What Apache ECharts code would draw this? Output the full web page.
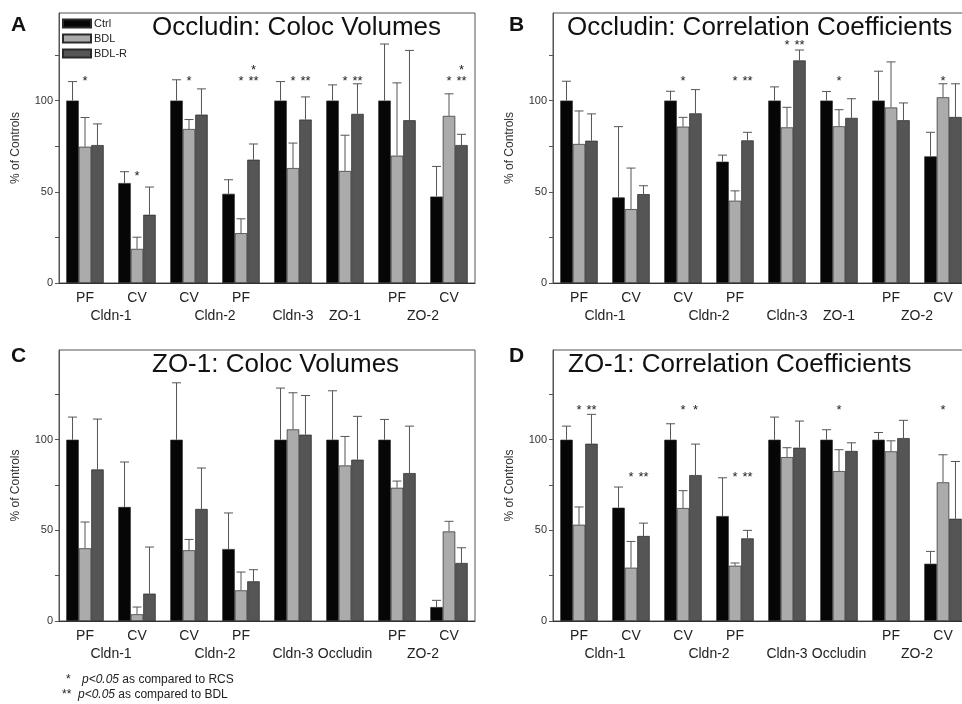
<!DOCTYPE html>
<html>
<head>
<meta charset="utf-8">
<script src="https://cdn.jsdelivr.net/npm/echarts@6/dist/echarts.min.js"></script>
<style>
html,body{margin:0;padding:0;background:#fff;}
#chart{width:962px;height:704px;}
</style>
</head>
<body>
<div id="chart"></div>
<script>
// ---------- data ----------
const seriesNames = ['Ctrl', 'BDL', 'BDL-R'];
const categoriesAB = ['PF', 'CV', 'CV', 'PF', '', '', 'PF', 'CV'];
const categoriesCD = ['PF', 'CV', 'CV', 'PF', '', '', 'PF', 'CV'];
const groupPos = [1, 3, 4.5, 5.5, 7];
const groupNamesAB = ['Cldn-1', 'Cldn-2', 'Cldn-3', 'ZO-1', 'ZO-2'];
const groupNamesCD = ['Cldn-1', 'Cldn-2', 'Cldn-3', 'Occludin', 'ZO-2'];
const yTickLabels = [0, 50, 100];

const titles = ['Occludin: Coloc Volumes', 'Occludin: Correlation Coefficients',
                'ZO-1: Coloc Volumes', 'ZO-1: Correlation Coefficients'];
const panelLetters = ['A', 'B', 'C', 'D'];

// Panel A
const aCtrl = [100, 54.8, 100, 48.9, 100, 100, 100, 47.4];
const aCtrlSem = [10.4, 6.2, 11.4, 7.7, 10.4, 8.6, 31, 16.5];
const aBdl = [74.7, 18.7, 84.4, 27.3, 63, 61.4, 69.8, 91.6];
const aBdlSem = [16, 6.4, 5.2, 7.9, 13.7, 19.6, 39.9, 12.1];
const aBdlr = [75.6, 37.4, 92.3, 67.6, 89.6, 92.7, 89.2, 75.6];
const aBdlrSem = [11.6, 15.2, 14.1, 8.6, 12.4, 16.5, 38.3, 5.9];
// Panel B
const bCtrl = [100, 46.9, 100, 66.5, 100, 100, 100, 69.4];
const bCtrlSem = [10.6, 38.8, 5.1, 3.6, 7.5, 5, 16.1, 13.2];
const bBdl = [76.2, 40.5, 85.7, 45.1, 85.3, 85.9, 96.2, 101.8];
const bBdlSem = [18.1, 22.5, 5.1, 5.4, 11, 9.1, 25, 7.4];
const bBdlr = [78, 48.7, 93, 78.2, 122, 90.5, 89.2, 91];
const bBdlrSem = [14.7, 4.6, 13, 4.4, 5.7, 10.5, 9.5, 18.2];
// Panel C
const cCtrl = [100, 62.9, 100, 39.7, 100, 100, 100, 7.7];
const cCtrlSem = [12.5, 24.8, 31.4, 19.9, 28.5, 27, 11.2, 3.7];
const cBdl = [40.1, 3.7, 39, 16.9, 105.7, 85.8, 73.5, 49.4];
const cBdlSem = [14.5, 4, 6, 10.1, 20.2, 16, 3.7, 5.6];
const cBdlr = [83.6, 15.1, 61.8, 21.9, 102.8, 89, 81.6, 32];
const cBdlrSem = [27.8, 25.7, 22.6, 6.4, 21.6, 23.9, 25.9, 8.4];
// Panel D
const dCtrl = [100, 62.5, 100, 57.9, 100, 100, 100, 31.6];
const dCtrlSem = [7.5, 11.4, 8.8, 21.1, 12.5, 5.5, 4, 6.8];
const dBdl = [53.1, 29.4, 62.3, 30.5, 90.4, 82.7, 93.6, 76.5];
const dBdlSem = [9.8, 14.5, 9.6, 1.5, 5.2, 11.8, 5.8, 15.2];
const dBdlr = [97.8, 46.9, 80.5, 45.6, 95.6, 93.8, 100.9, 56.4];
const dBdlrSem = [16.2, 7.1, 17.1, 4.4, 14.7, 4.5, 9.8, 31.6];

// significance marks: [category, bar (0 Ctrl,1 BDL,2 BDL-R), y, text]
const sigA = [[0,1,112,'*'],[1,1,60,'*'],[2,1,112,'*'],[3,1,112,'*'],[3,2,112,'**'],[3,2,118,'*'],
              [4,1,112,'*'],[4,2,112,'**'],[5,1,112,'*'],[5,2,112,'**'],[7,1,112,'*'],[7,2,112,'**'],[7,2,118,'*']];
const sigB = [[2,1,112,'*'],[3,1,112,'*'],[3,2,112,'**'],[4,1,131.7,'*'],[4,2,131.7,'**'],[5,1,112,'*'],[7,1,112,'*']];
const sigC = [];
const sigD = [[0,1,117.6,'*'],[0,2,117.6,'**'],[1,1,81,'*'],[1,2,81,'**'],[2,1,117.6,'*'],[2,2,117.6,'*'],
              [3,1,81,'*'],[3,2,81,'**'],[5,1,117.6,'*'],[7,1,117.6,'*']];

const footnote1 = ['*', 'p<0.05', ' as compared to RCS'];
const footnote2 = ['**', 'p<0.05', ' as compared to BDL'];

// ---------- build ----------
const FONT = '"Liberation Sans", Arial, Helvetica, sans-serif';
const colors = ['#060606', '#ababab', '#555555'];
const GAP = 0.28;

const panels = [
  {vals: [aCtrl, aBdl, aBdlr], sems: [aCtrlSem, aBdlSem, aBdlrSem], sig: sigA, cats: categoriesAB, groups: groupNamesAB, max: 148},
  {vals: [bCtrl, bBdl, bBdlr], sems: [bCtrlSem, bBdlSem, bBdlrSem], sig: sigB, cats: categoriesAB, groups: groupNamesAB, max: 148},
  {vals: [cCtrl, cBdl, cBdlr], sems: [cCtrlSem, cBdlSem, cBdlrSem], sig: sigC, cats: categoriesCD, groups: groupNamesCD, max: 149.5},
  {vals: [dCtrl, dBdl, dBdlr], sems: [dCtrlSem, dBdlSem, dBdlrSem], sig: sigD, cats: categoriesCD, groups: groupNamesCD, max: 149.5}
];
const gridPos = [
  {left: 59, top: 13, width: 416, height: 270},
  {left: 553, top: 13, width: 416, height: 270},
  {left: 59, top: 350, width: 416, height: 271},
  {left: 553, top: 350, width: 416, height: 271}
];
const titlePos = [[152, 15], [567, 15], [152, 352], [568, 352]];
const letterPos = [[11, 15], [509, 15], [11, 346], [509, 346]];

const grids = [], xAxes = [], yAxes = [], series = [], titleArr = [];

panels.forEach((p, pi) => {
  grids.push(Object.assign({show: true, borderColor: '#555', borderWidth: 1, outerBoundsMode: 'none', containLabel: false}, gridPos[pi]));
  xAxes.push({
    gridIndex: pi, type: 'category', data: p.cats, position: 'bottom',
    axisTick: {show: false},
    axisLine: {lineStyle: {color: '#333', width: 1}},
    axisLabel: {interval: 0, margin: 8, fontSize: 14, color: '#222', fontFamily: FONT},
    splitLine: {show: false}
  });
  xAxes.push({
    gridIndex: pi, type: 'value', min: 0, max: 8, interval: 0.5, position: 'bottom',
    axisLine: {show: false}, axisTick: {show: false}, splitLine: {show: false},
    axisLabel: {
      margin: 26, fontSize: 14, color: '#222', fontFamily: FONT, showMinLabel: true, showMaxLabel: true,
      formatter: v => { const i = groupPos.indexOf(v); return i >= 0 ? p.groups[i] : ''; }
    }
  });
  yAxes.push({
    gridIndex: pi, type: 'value', min: 0, max: p.max, interval: 25,
    axisLine: {show: true, lineStyle: {color: '#555'}},
    axisTick: {show: true, length: 4, lineStyle: {color: '#555'}},
    splitLine: {show: false},
    axisLabel: {
      margin: 6, fontSize: 11, color: '#333', fontFamily: FONT, showMaxLabel: false,
      formatter: v => yTickLabels.indexOf(v) >= 0 ? String(v) : ''
    },
    name: '% of Controls', nameLocation: 'middle', nameGap: 37, nameRotate: 90,
    nameTextStyle: {fontSize: 12, color: '#333', fontFamily: FONT}
  });

  p.vals.forEach((vals, k) => {
    series.push({
      type: 'bar', name: seriesNames[k], xAxisIndex: 2 * pi, yAxisIndex: pi,
      data: vals, barCategoryGap: (GAP * 100) + '%', barGap: '0%',
      itemStyle: {color: colors[k], borderColor: '#2a2a2a', borderWidth: 0.7},
      emphasis: {disabled: true}, z: 2
    });
  });

  const errData = [];
  p.vals.forEach((vals, k) => vals.forEach((v, i) => errData.push([i, v, p.sems[k][i], k])));
  series.push({
    type: 'custom', xAxisIndex: 2 * pi, yAxisIndex: pi, data: errData, z: 3, silent: true,
    encode: {x: 0, y: 1},
    renderItem: (params, api) => {
      const cat = api.value(0), v = api.value(1), s = api.value(2), k = api.value(3);
      const cw = api.size([1, 0])[0];
      const bw = cw * (1 - GAP) / 3;
      const base = api.coord([cat, v]);
      const top = api.coord([cat, v + s]);
      const x = base[0] + (k - 1) * bw;
      const st = {stroke: '#555', lineWidth: 1};
      return {type: 'group', children: [
        {type: 'line', shape: {x1: x, y1: base[1], x2: x, y2: top[1]}, style: st},
        {type: 'line', shape: {x1: x - 4.5, y1: top[1], x2: x + 4.5, y2: top[1]}, style: st}
      ]};
    }
  });

  if (p.sig.length) {
    series.push({
      type: 'custom', xAxisIndex: 2 * pi, yAxisIndex: pi, z: 4, silent: true,
      data: p.sig.map(s => [s[0], s[2]]),
      encode: {x: 0, y: 1},
      renderItem: (params, api) => {
        const s = p.sig[params.dataIndex];
        const cw = api.size([1, 0])[0];
        const bw = cw * (1 - GAP) / 3;
        const c = api.coord([s[0], s[2]]);
        return {type: 'text', x: c[0] + (s[1] - 1) * bw, y: c[1] + 3,
          style: {text: s[3], fill: '#222', font: '13px ' + FONT, align: 'center', verticalAlign: 'middle'}};
      }
    });
  }

  titleArr.push({text: panelLetters[pi], left: letterPos[pi][0], top: letterPos[pi][1], padding: 0,
    textStyle: {fontSize: 21, fontWeight: 'bold', color: '#111', fontFamily: FONT}});
  titleArr.push({text: titles[pi], left: titlePos[pi][0], top: titlePos[pi][1], padding: 0,
    textStyle: {fontSize: 26, fontWeight: 'normal', color: '#111', fontFamily: FONT}});
});

const option = {
  animation: false,
  backgroundColor: '#fff',
  title: titleArr,
  legend: {
    data: seriesNames, left: 62, top: 18, orient: 'vertical', icon: 'rect',
    itemWidth: 28, itemHeight: 8, itemGap: 4, padding: 0, selectedMode: false,
    textStyle: {fontSize: 11, color: '#222', fontFamily: FONT, padding: [0, 0, 0, -2]}
  },
  grid: grids, xAxis: xAxes, yAxis: yAxes, series: series,
  graphic: [
    {type: 'text', left: 66, top: 674, style: {text: footnote1[0], font: '12px ' + FONT, fill: '#222'}},
    {type: 'text', left: 82, top: 674, style: {text: '{i|' + footnote1[1] + '}' + footnote1[2], font: '12px ' + FONT, fill: '#222',
      rich: {i: {fontStyle: 'italic', fontSize: 12, fontFamily: FONT, fill: '#222'}}}},
    {type: 'text', left: 62, top: 689, style: {text: footnote2[0], font: '12px ' + FONT, fill: '#222'}},
    {type: 'text', left: 78, top: 689, style: {text: '{i|' + footnote2[1] + '}' + footnote2[2], font: '12px ' + FONT, fill: '#222',
      rich: {i: {fontStyle: 'italic', fontSize: 12, fontFamily: FONT, fill: '#222'}}}}
  ]
};

const chart = echarts.init(document.getElementById('chart'), null, {renderer: 'canvas'});
chart.setOption(option);
</script>
</body>
</html>
